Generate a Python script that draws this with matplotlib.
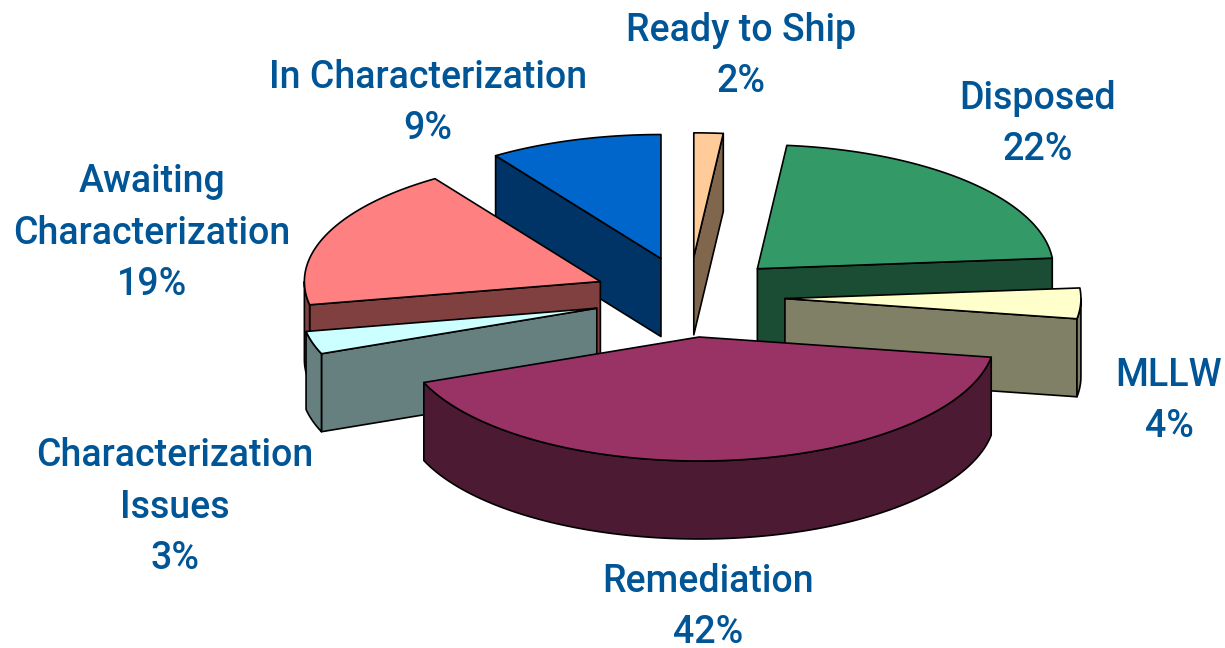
import numpy as np
import matplotlib
matplotlib.use('Agg')
import matplotlib.pyplot as plt
from matplotlib.patches import Polygon

# clockwise from 12 o'clock
labels = ['Ready to Ship', 'Disposed', 'MLLW', 'Remediation',
          'Characterization\nIssues', 'Awaiting\nCharacterization',
          'In Characterization']
percents = [2, 22, 4, 42, 3, 19, 9]
shares = [1.6, 22.2, 4.0, 41.7, 3.0, 18.7, 9.5]
top_colors = ['#FFCC99', '#339966', '#FFFFCC', '#993366',
              '#CCFFFF', '#FF8080', '#0066CC']
side_colors = ['#80664D', '#1A4D33', '#808066', '#4D1A33',
               '#668080', '#804040', '#003366']
label_pos = [(741, 56), (1038, 124), (1169, 401), (708, 607),
             (175, 507), (152, 233), (428, 103)]

CX, CY = 689, 297
RX, RY = 296, 124
EXPLODE = 96
DEPTH = 78
TEXT_COLOR = '#005596'


def project(cx, cy, theta):
    return cx + RX * np.sin(theta), cy - RY * np.cos(theta)


def draw_slice(ax, cx, cy, start, end, top, side):
    edge = dict(edgecolor='black', linewidth=1.2, joinstyle='round')
    sx, sy = project(cx, cy, start)
    ex, ey = project(cx, cy, end)

    # cut faces, only the ones turned to the viewer
    if np.sin(start) < 0:
        ax.add_patch(Polygon([(cx, cy), (sx, sy), (sx, sy + DEPTH), (cx, cy + DEPTH)],
                             facecolor=side, **edge))
    if np.sin(end) > 0:
        ax.add_patch(Polygon([(cx, cy), (ex, ey), (ex, ey + DEPTH), (cx, cy + DEPTH)],
                             facecolor=side, **edge))

    # outer wall is the part of the rim in the front half
    lo = max(start, np.pi / 2)
    hi = min(end, 3 * np.pi / 2)
    if hi > lo:
        t = np.linspace(lo, hi, 100)
        x, y = project(cx, cy, t)
        wall = np.r_[np.c_[x, y], np.c_[x, y + DEPTH][::-1]]
        ax.add_patch(Polygon(wall, facecolor=side, **edge))

    t = np.linspace(start, end, 150)
    x, y = project(cx, cy, t)
    ax.add_patch(Polygon(np.r_[[(cx, cy)], np.c_[x, y]], facecolor=top, **edge))


fig = plt.figure(figsize=(12.25, 6.48), dpi=100)
ax = fig.add_axes([0, 0, 1, 1])
ax.set_xlim(0, 1225)
ax.set_ylim(648, 0)
ax.axis('off')

edges = np.r_[0, np.cumsum(shares)] / np.sum(shares) * 2 * np.pi
slices = []
for i in range(len(shares)):
    mid = (edges[i] + edges[i + 1]) / 2
    cx = CX + EXPLODE * np.sin(mid)
    cy = CY - EXPLODE * RY / RX * np.cos(mid)
    slices.append((cy, cx, edges[i], edges[i + 1], top_colors[i], side_colors[i]))

# back to front
for cy, cx, start, end, top, side in sorted(slices, key=lambda s: s[0]):
    draw_slice(ax, cx, cy, start, end, top, side)

for name, pct, pos in zip(labels, percents, label_pos):
    ax.text(pos[0], pos[1], '%s\n%d%%' % (name, pct), ha='center', va='center',
            color=TEXT_COLOR, fontsize=27, linespacing=1.5, family='Roboto',
            fontweight='medium')

fig.savefig('out.png', dpi=100)
